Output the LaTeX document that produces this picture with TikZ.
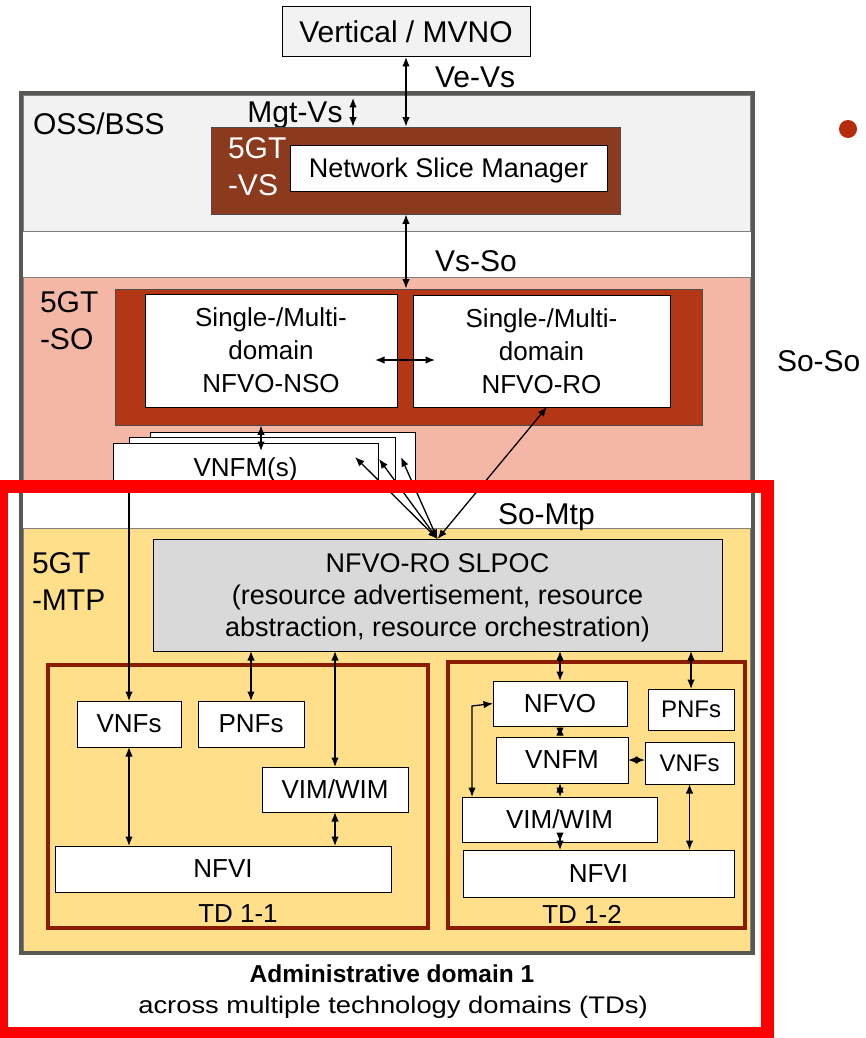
\documentclass[tikz,border=0pt]{standalone}
\usepackage{fontspec}
\setmainfont{Liberation Sans}
\newfontfamily\widefont[FakeStretch=1.14]{Liberation Sans}
\usetikzlibrary{arrows.meta}

\definecolor{ossgray}{HTML}{F2F2F2}
\definecolor{framegray}{HTML}{595953}
\definecolor{sopink}{HTML}{F4B7A6}
\definecolor{sodark}{HTML}{B33615}
\definecolor{vsbrown}{HTML}{8B3A1E}
\definecolor{mtpyellow}{HTML}{FFDF8A}
\definecolor{slpocgray}{HTML}{D9D9D9}
\definecolor{tdred}{HTML}{8C1C00}
\definecolor{adred}{HTML}{FF0000}
\definecolor{bulletred}{HTML}{B52B0C}

\begin{document}
\begin{tikzpicture}[x=1pt,y=-1pt,
  sz/.style 2 args={minimum width=#1, minimum height=#2},
  blk/.style={draw=black, line width=1pt, fill=white, inner sep=0pt, outer sep=0pt,
    text depth=0pt, align=center, font=\fontsize{26}{33}\selectfont},
  lbl/.style={inner sep=0pt, outer sep=0pt, font=\fontsize{30}{37}\selectfont},
  tdframe/.style={draw=tdred, line width=\tdw, inner sep=0pt},
  region/.style={draw=gray, line width=0.8pt},
  dbl/.style={{Latex[length=9.5pt,width=7.5pt]}-{Latex[length=9.5pt,width=7.5pt]}, line width=\arroww},
  sgl/.style={-{Latex[length=9.5pt,width=7.5pt]}, line width=\arroww}]

%%%%%%%%%%%%%%%%%%%%%%
%%%   Def style    %%%
%%%%%%%%%%%%%%%%%%%%%%

\def \framew{4pt}
\def \tdw{4pt}
\def \arroww{1.3pt}
\def \redw{13pt}

\useasboundingbox (0,0) rectangle (866,1038);

%%%%%%%%%%%%%%%%%%%%%%
%%%   Fonds        %%%
%%%%%%%%%%%%%%%%%%%%%%

\draw[region, fill=ossgray] (23,95) rectangle (750,231);
\draw[region, fill=sopink] (23,277) rectangle (750,482);
\draw[region, fill=mtpyellow] (23,528) rectangle (750,951);
\draw[framegray, line width=\framew] (21,93.5) rectangle (752.5,953);

%%%%%%%%%%%%%%%%%%%%%%
%%%   Vertical     %%%
%%%%%%%%%%%%%%%%%%%%%%

\node[blk, sz={248}{50}, fill=ossgray, font=\fontsize{30}{36}\selectfont] (vert) at (406,32) {Vertical / MVNO};
\node[lbl, anchor=base west] (vevs) at (435,88) {Ve-Vs};
\node[lbl, anchor=base west] (oss) at (33,135) {OSS/BSS};
\node[lbl, anchor=base] (mgt) at (295,122) {Mgt-Vs};

% 5GT-VS
\node[draw=black!70, line width=0.8pt, fill=vsbrown, inner sep=0pt, sz={409}{87}] (vs) at (415.5,170.5) {};
\node[lbl, anchor=north west, align=left, text=white] (vslbl) at (228,138) {5GT\\-VS};
\node[blk, sz={317}{46}, font=\fontsize{27}{33}\selectfont] (nsm) at (448.5,168) {Network Slice Manager};

\coordinate (mgttop) at (353,98);
\draw[dbl] (mgttop) -- (mgttop |- vs.north);
\draw[dbl] (vert.south) -- (vert.south |- vs.north);

%%%%%%%%%%%%%%%%%%%%%%
%%%   5GT-SO       %%%
%%%%%%%%%%%%%%%%%%%%%%

\node[lbl, anchor=base west] (vsso) at (435,271) {Vs-So};
\node[lbl, anchor=north west, align=left] (solbl) at (40,292) {5GT\\-SO};
\node[draw=black!70, line width=0.8pt, fill=sodark, inner sep=0pt, sz={587}{136}] (so) at (408.5,357) {};
\node[blk, sz={252}{113}] (nso) at (271,350.5) {Single-/Multi-\\domain\\NFVO-NSO};
\node[blk, sz={257}{112}] (ro) at (541.5,351) {Single-/Multi-\\domain\\NFVO-RO};

\draw[dbl] (vert.south |- vs.south) -- (vert.south |- so.north);
\draw[dbl] ([shift={(-22,9.5)}]nso.east) -- ([shift={(22,9)}]ro.west);

% pile de VNFM
\node[blk, sz={265}{59}] (vnfmsC) at (282.5,461.5) {};
\node[blk, sz={266}{54}] (vnfmsB) at (262,464) {};
\node[blk, sz={265}{48}] (vnfmsA) at (245.5,467) {VNFM(s)};

\coordinate (vnfmtip) at ([shift={(15.5,8)}]vnfmsA.north);
\draw[dbl] (vnfmtip |- so.south) -- (vnfmtip);

\node[lbl, anchor=base west] (soso) at (777,371) {So-So};
\node[circle, fill=bulletred, inner sep=0pt, minimum size=18] (dot) at (848,129) {};

%%%%%%%%%%%%%%%%%%%%%%
%%%   5GT-MTP      %%%
%%%%%%%%%%%%%%%%%%%%%%

\node[lbl, anchor=base west] (somtp) at (498,524) {So-Mtp};
\node[lbl, anchor=north west, align=left] (mtplbl) at (32,553) {5GT\\-MTP};
\node[blk, sz={569}{112}, fill=slpocgray, font=\fontsize{27}{32}\selectfont] (slpoc) at (437.5,595)
  {NFVO-RO SLPOC\\(resource advertisement, resource\\abstraction, resource orchestration)};

% So-Mtp : vers les VNFM et le NFVO-RO
\draw[dbl] (slpoc.north) -- ([shift={(-23,-10)}]vnfmsA.east);
\draw[dbl] (slpoc.north) -- ([shift={(-16,-5)}]vnfmsB.east);
\draw[dbl] (slpoc.north) -- ([shift={(-14,-4.5)}]vnfmsC.east);
\draw[dbl] (slpoc.north) -- ([xshift=5.5]ro.south);

% TD 1-1
\node[tdframe, sz={380}{263}] (tdA) at (238,796.5) {};
\node[blk, sz={104}{46}] (vnfsA) at (129,724) {VNFs};
\node[blk, sz={106}{46}] (pnfsA) at (251,724) {PNFs};
\node[blk, sz={146}{45}] (vimA) at (335,789.5) {VIM/WIM};
\node[blk, sz={336}{46}] (nfviA) at (223,869) {NFVI};
\node[anchor=base, inner sep=0pt, font=\fontsize{26}{30}\selectfont] (tdAlbl) at (238,922) {TD 1-1};

\draw[sgl] (vnfmsA.south -| vnfsA.north) -- (vnfsA.north);
\draw[dbl] (slpoc.south -| pnfsA.north) -- (pnfsA.north);
\draw[dbl] (slpoc.south -| vimA.north) -- (vimA.north);
\draw[dbl] (vnfsA.south) -- (vnfsA.south |- nfviA.north);
\draw[dbl] (vimA.south) -- (vimA.south |- nfviA.north);

% TD 1-2
\node[tdframe, sz={297}{266}] (tdB) at (596.5,795) {};
\node[blk, sz={134}{45}] (nfvoB) at (560,703.5) {NFVO};
\node[blk, sz={86}{41}, font=\fontsize{24}{30}\selectfont] (pnfsB) at (691,709.5) {PNFs};
\node[blk, sz={132}{46}] (vnfmB) at (562,760) {VNFM};
\node[blk, sz={89}{42}, font=\fontsize{24}{30}\selectfont] (vnfsB) at (689.5,763) {VNFs};
\node[blk, sz={195}{45}] (vimB) at (559.5,819.5) {VIM/WIM};
\node[blk, sz={271}{47}] (nfviB) at (598.5,873.5) {NFVI};
\node[anchor=base, inner sep=0pt, font=\fontsize{26}{30}\selectfont] (tdBlbl) at (582,923) {TD 1-2};

\draw[dbl] (slpoc.south -| nfvoB.north) -- (nfvoB.north);
\draw[dbl] (slpoc.south -| pnfsB.north) -- (pnfsB.north);
\draw[dbl] (nfvoB.south) -- (nfvoB.south |- vnfmB.north);
\draw[dbl] (nfvoB.south |- vnfmB.south) -- (nfvoB.south |- vimB.north);
\draw[dbl] (nfvoB.south |- vimB.south) -- (nfvoB.south |- nfviB.north);
\draw[dbl] (vnfmB.east) -- (vnfsB.west |- vnfmB.east);
\draw[dbl] (vnfsB.south) -- (vnfsB.south |- nfviB.north);
\coordinate (elbow) at (472,706);
\draw[dbl] (nfvoB.west) -- (elbow) -- (elbow |- vimB.north);

%%%%%%%%%%%%%%%%%%%%%%
%%%   Domaine 1    %%%
%%%%%%%%%%%%%%%%%%%%%%

\node[anchor=base, inner sep=0pt, font=\bfseries\fontsize{24.5}{28}\selectfont] (admin) at (392,982) {Administrative domain 1};
\node[anchor=base, inner sep=0pt, font=\widefont\fontsize{24}{28}\selectfont] (across) at (393,1013) {across multiple technology domains (TDs)};

\draw[adred, line width=\redw] (1,486.5) rectangle (767,1033);

%%%%%%%%%%%%%%%%%%%%%%%%%%%%%%%%%%%%%%%%%

\end{tikzpicture}
\end{document}
